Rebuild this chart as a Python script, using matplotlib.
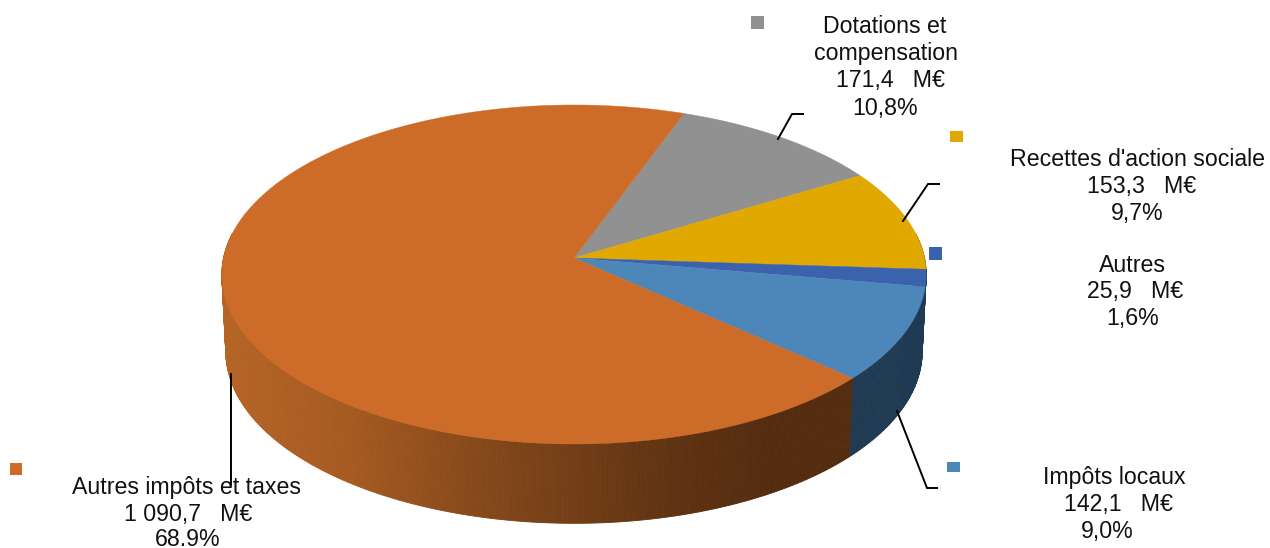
import numpy as np
import matplotlib
matplotlib.use("Agg")
import matplotlib.pyplot as plt
from matplotlib.colors import to_rgb

plt.rcParams['font.family'] = ['Liberation Sans', 'DejaVu Sans']

# wartosci w M€, kolejnosc zgodnie z ruchem wskazowek
categories = ["Dotations et compensation", "Recettes d'action sociale", "Autres", "Impôts locaux", "Autres impôts et taxes"]
values = [171.4, 153.3, 25.9, 142.1, 1090.7]
colors = ["#919191", "#e0a800", "#3b62ad", "#4d86b8", "#cd6b28"]
side_colors = ["#5a5a5a", "#8a6800", "#223a66", "#1f3a52", None]
start_angle = 20.0

# rzut perspektywiczny dysku
cx, cy = 574, 258
A, B, k = 350.5, 167.9, 0.0973
A2, B2, cy2 = 346.5, 170, 335

def project(ang, a, b, yc):
    t = np.radians(ang)
    u, v = np.sin(t), -np.cos(t)
    w = 1 - k * v
    return cx + a * u / w, yc + b * v / w

def side_orange(x):
    xs = [225, 350, 450, 570, 680, 770, 900]
    rs = ["#b56426", "#a55a20", "#8c4c1c", "#733e17", "#5e3212", "#542c10", "#542c10"]
    c = np.array([to_rgb(r) for r in rs])
    return tuple(np.interp(x, xs, c[:, i]) for i in range(3))

fig = plt.figure(figsize=(12.7, 5.48), dpi=100)
ax = fig.add_axes([0, 0, 1, 1])
ax.set_xlim(0, 1270)
ax.set_ylim(548, 0)
ax.axis('off')

fractions = np.array(values) / sum(values)
edges = start_angle + np.concatenate([[0], np.cumsum(fractions)]) * 360

# boki
for i in range(len(values)):
    angs = np.arange(edges[i], edges[i + 1] + 0.5, 0.5)
    angs[-1] = min(angs[-1], edges[i + 1])
    for a0, a1 in zip(angs[:-1], angs[1:]):
        if -np.cos(np.radians((a0 + a1) / 2)) < -0.15:
            continue
        x0, y0 = project(a0, A, B, cy)
        x1, y1 = project(a1, A, B, cy)
        x2, y2 = project(a1, A2, B2, cy2)
        x3, y3 = project(a0, A2, B2, cy2)
        c = side_colors[i] or side_orange((x0 + x1) / 2)
        ax.fill([x0, x1, x2, x3], [y0, y1, y2, y3], color=c, lw=0.6, zorder=2)

# gorna powierzchnia
for i in range(len(values)):
    angs = np.linspace(edges[i], edges[i + 1], 300)
    x, y = project(angs, A, B, cy)
    ax.fill(np.r_[cx, x], np.r_[cy, y], color=colors[i], lw=0.3, zorder=3)

# linie odniesienia
leaders = [
    ([778, 792, 803], [139, 114, 114]),
    ([903, 928, 939], [221, 184, 184]),
    ([897, 927, 937], [411, 488, 488]),
    ([230.5, 230.5], [374, 485]),
]
for lx, ly in leaders:
    ax.plot(lx, ly, color="black", lw=1.4, zorder=4, solid_joinstyle='miter')

# kwadraty legendy
squares = [(751, 16, 13, 13), (950, 131, 13, 11), (929, 247, 13, 13), (947, 462, 13, 10), (10, 463, 12, 12)]
for (sx, sy, sw, sh), c in zip(squares, colors):
    ax.fill([sx, sx + sw, sx + sw, sx], [sy, sy, sy + sh, sy + sh], color=c, lw=0, zorder=4)

# etykiety, y = linia bazowa
labels = [
    ("Dotations et", 885, 33), ("compensation", 886, 60), ("171,4   M€", 891, 87.5), ("10,8%", 885, 115),
    ("Recettes d'action sociale", 1137, 166), ("153,3   M€", 1142, 193), ("9,7%", 1137, 220),
    ("Autres", 1132, 272), ("25,9   M€", 1135, 298), ("1,6%", 1133, 325),
    ("Impôts locaux", 1114, 484), ("142,1   M€", 1119, 511), ("9,0%", 1107, 538),
    ("Autres impôts et taxes", 187, 494), ("1 090,7   M€", 188, 521.5), ("68.9%", 188, 546.5),
]
for t, tx, ty in labels:
    ax.text(tx, ty, t, ha='center', va='baseline', fontsize=16.7, color="#111111", zorder=5)

fig.savefig("out.png", dpi=100)
